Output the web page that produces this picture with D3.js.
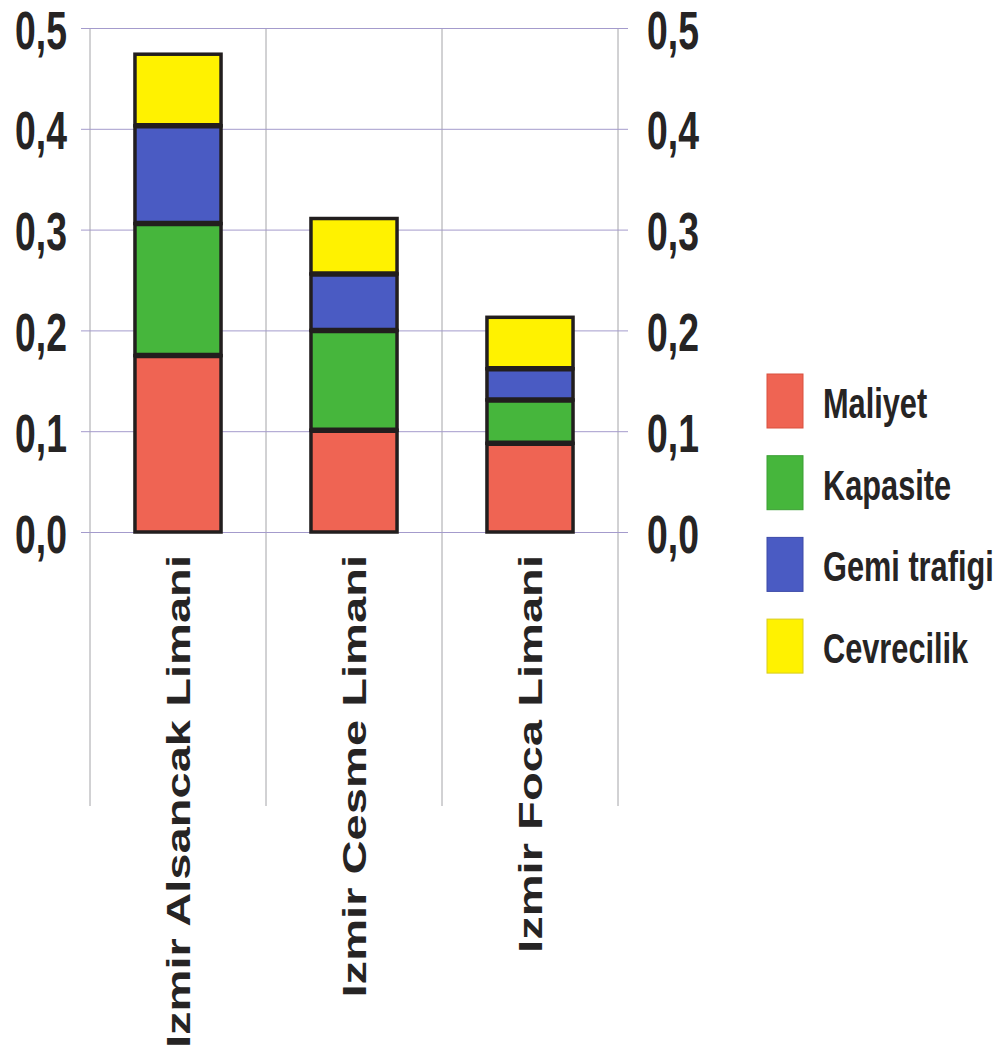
<!DOCTYPE html>
<html>
<head>
<meta charset="utf-8">
<script src="https://cdn.jsdelivr.net/npm/d3@7"></script>
<style>
  html, body { margin: 0; padding: 0; background: #ffffff; }
  svg { display: block; }
</style>
</head>
<body>
<svg id="chart" width="1008" height="1057"></svg>
<script>
// Port ranking by criterion weights (stacked)
const categories = ["Izmir Alsancak Limani", "Izmir Cesme Limani", "Izmir Foca Limani"];
const seriesNames = ["Maliyet", "Kapasite", "Gemi trafigi", "Cevrecilik"];
const maliyet     = [0.175, 0.101, 0.088];
const kapasite    = [0.131, 0.099, 0.043];
const gemiTrafigi = [0.097, 0.056, 0.031];
const cevrecilik  = [0.071, 0.055, 0.051];
const yTicks = [0, 0.1, 0.2, 0.3, 0.4, 0.5];

const colors = ["#ef6453", "#46b63c", "#4a5bc3", "#fff200"];
const legendBorders = ["#d9503f", "#3a9f33", "#3c4aa8", "#d8cc20"];

const rows = categories.map((c, i) => ({
  cat: c,
  "Maliyet": maliyet[i],
  "Kapasite": kapasite[i],
  "Gemi trafigi": gemiTrafigi[i],
  "Cevrecilik": cevrecilik[i]
}));

const svg = d3.select("#chart");
const plotLeft = 90, plotRight = 618, plotTop = 28, plotBottom = 532, lineBottom = 806;

const x = d3.scaleBand().domain(categories).range([plotLeft, plotRight])
  .paddingInner(0.511).paddingOuter(0.2555);
const y = d3.scaleLinear().domain([0, 0.5]).range([plotBottom, plotTop]);

const locale = d3.formatLocale({ decimal: ",", thousands: ".", grouping: [3], currency: ["", ""] });
const fmt = locale.format(".1f");

const font = "'Liberation Sans', Arial, sans-serif";
const ink = "#262424";

// vertical category separators
const seps = [plotLeft, ...categories.slice(1).map(c => x(c) - x.step() * x.paddingInner() / 2), plotRight];
svg.append("g").selectAll("line").data(seps).join("line")
  .attr("x1", d => d).attr("x2", d => d)
  .attr("y1", plotTop).attr("y2", lineBottom)
  .attr("stroke", "#a4a4a8").attr("stroke-width", 1);

// horizontal gridlines with outer tick stubs
const grid = svg.append("g").attr("transform", `translate(${plotLeft},0)`)
  .call(d3.axisLeft(y).tickValues(yTicks).tickSize(-(plotRight - plotLeft + 10)).tickSizeOuter(0).tickFormat(""));
grid.select(".domain").remove();
grid.selectAll(".tick line").attr("x1", -9).attr("stroke", "#a49bcc").attr("stroke-width", 1);

// left axis labels (condensed bold)
const yl = svg.append("g").attr("transform", `translate(${plotLeft},0)`)
  .call(d3.axisLeft(y).tickValues(yTicks).tickSize(0).tickFormat(fmt));
yl.select(".domain").remove();
yl.selectAll(".tick text")
  .attr("x", null).attr("dy", null)
  .attr("transform", "translate(-23,0) scale(0.705,1) translate(0,20)")
  .attr("font-family", font)
  .attr("font-weight", "bold").attr("font-size", 53).attr("fill", ink);

// right axis labels
const yr = svg.append("g").attr("transform", `translate(${plotRight},0)`)
  .call(d3.axisRight(y).tickValues(yTicks).tickSize(0).tickFormat(fmt));
yr.select(".domain").remove();
yr.selectAll(".tick text")
  .attr("x", null).attr("dy", null)
  .attr("transform", "translate(29,0) scale(0.705,1) translate(0,20)")
  .attr("font-family", font)
  .attr("font-weight", "bold").attr("font-size", 53).attr("fill", ink);

// stacked bars
const stacked = d3.stack().keys(seriesNames)(rows);
const layers = svg.append("g").selectAll("g").data(stacked).join("g")
  .attr("fill", (d, i) => colors[i]);
layers.selectAll("rect").data(d => d).join("rect")
  .attr("x", d => x(d.data.cat))
  .attr("width", x.bandwidth())
  .attr("y", d => y(d[1]))
  .attr("height", d => y(d[0]) - y(d[1]))
  .attr("stroke", "#221e1e").attr("stroke-width", 3.5);

// heavier seams between stacked segments
const seams = stacked.slice(0, -1).flatMap(layer => layer.map(d => ({ cat: d.data.cat, v: d[1] })));
svg.append("g").selectAll("line").data(seams).join("line")
  .attr("x1", d => x(d.cat)).attr("x2", d => x(d.cat) + x.bandwidth())
  .attr("y1", d => y(d.v)).attr("y2", d => y(d.v))
  .attr("stroke", "#221e1e").attr("stroke-width", 5.5);

// category labels, rotated and widened
svg.append("g").selectAll("text").data(categories).join("text")
  .attr("transform", d => `translate(${x(d) + x.bandwidth() / 2},555) rotate(-90) scale(1.386,1)`)
  .attr("text-anchor", "end")
  .attr("dy", "0.35em")
  .attr("font-family", font)
  .attr("font-weight", "bold").attr("font-size", 34).attr("fill", ink)
  .text(d => d);

// legend
const legend = svg.append("g").attr("transform", "translate(767,374)");
const items = legend.selectAll("g").data(seriesNames).join("g")
  .attr("transform", (d, i) => `translate(0,${i * 81.7})`);
items.append("rect")
  .attr("width", 36).attr("height", 54)
  .attr("fill", (d, i) => colors[i])
  .attr("stroke", (d, i) => legendBorders[i]).attr("stroke-width", 1);
items.append("text")
  .attr("transform", "translate(56,44) scale(0.715,1)")
  .attr("font-family", font)
  .attr("font-weight", "bold").attr("font-size", 43).attr("fill", ink)
  .text(d => d);
</script>
</body>
</html>
